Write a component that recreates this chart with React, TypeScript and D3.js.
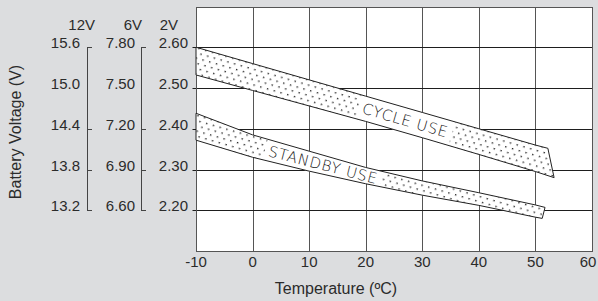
import { useEffect, useRef } from "react";
import * as d3 from "d3";

// Band edges (2V cell voltage vs temperature °C)
const cycleTopT = [-10, 0, 10, 20, 30, 40, 50, 52.2];
const cycleTopV = [2.6, 2.56, 2.52, 2.48, 2.44, 2.4, 2.36, 2.352];
const cycleBotT = [-10, 0, 10, 20, 30, 40, 50, 53.3];
const cycleBotV = [2.532, 2.494, 2.456, 2.418, 2.378, 2.337, 2.295, 2.28];

const standbyTopT = [-10, 0, 10, 20, 30, 40, 50, 51.7];
const standbyTopV = [2.438, 2.385, 2.345, 2.305, 2.272, 2.243, 2.213, 2.207];
const standbyBotT = [-10, 0, 10, 20, 30, 40, 50, 51.2];
const standbyBotV = [2.372, 2.33, 2.296, 2.265, 2.237, 2.212, 2.183, 2.18];

// axis ticks
const tempTicks = [-10, 0, 10, 20, 30, 40, 50, 60];
const v2Ticks = [2.6, 2.5, 2.4, 2.3, 2.2];
const v6Labels = ["7.80", "7.50", "7.20", "6.90", "6.60"];
const v12Labels = ["15.6", "15.0", "14.4", "13.8", "13.2"];
const v2Labels = ["2.60", "2.50", "2.40", "2.30", "2.20"];
const tickedRows = [true, false, true, true, true];

const App = () => {
  const ref = useRef<SVGSVGElement | null>(null);

  useEffect(() => {
    if (!ref.current) return;
    const svg = d3.select(ref.current);
    svg.selectAll("*").remove();

    const width = 598;
    const height = 301;
    const font = "'Liberation Sans', Arial, sans-serif";
    const ink = "#2b2b2b";

    const x = d3.scaleLinear().domain([-10, 60]).range([196, 592]);
    const y = d3.scaleLinear().domain([2.1, 2.7]).range([251, 6.5]);
    const px = (v: number) => Math.round(v) + 0.5;

    svg.attr("width", width).attr("height", height).style("display", "block");
    svg.append("rect").attr("width", width).attr("height", height).attr("fill", "#dcdddf");

    const defs = svg.append("defs");
    const pat = defs.append("pattern")
      .attr("id", "dots")
      .attr("patternUnits", "userSpaceOnUse")
      .attr("width", 7)
      .attr("height", 10)
      .attr("patternTransform", "rotate(16)");
    pat.append("rect").attr("width", 7).attr("height", 10).attr("fill", "#fff");
    pat.append("rect").attr("x", 1).attr("y", 1).attr("width", 1.4).attr("height", 1.4).attr("fill", "#222");
    pat.append("rect").attr("x", 4.5).attr("y", 6).attr("width", 1.4).attr("height", 1.4).attr("fill", "#222");

    // plot area
    const [x0, x1] = x.range();
    const [y0, y1] = y.range();
    svg.append("rect")
      .attr("x", px(x0)).attr("y", px(y1))
      .attr("width", px(x1) - px(x0)).attr("height", px(y0) - px(y1))
      .attr("fill", "#fff");

    // vertical gridlines
    svg.append("g").selectAll("line")
      .data(tempTicks.slice(1, -1))
      .enter().append("line")
      .attr("x1", d => px(x(d))).attr("x2", d => px(x(d)))
      .attr("y1", px(y1)).attr("y2", px(y0))
      .attr("stroke", "#555").attr("stroke-width", 1);

    // horizontal gridlines
    svg.append("g").selectAll("line")
      .data(v2Ticks)
      .enter().append("line")
      .attr("x1", px(x0) - 4).attr("x2", px(x1))
      .attr("y1", d => px(y(d))).attr("y2", d => px(y(d)))
      .attr("stroke", "#1e1e1e").attr("stroke-width", 1);

    // frame
    svg.append("rect")
      .attr("x", px(x0)).attr("y", px(y1))
      .attr("width", px(x1) - px(x0)).attr("height", px(y0) - px(y1))
      .attr("fill", "none").attr("stroke", "#555").attr("stroke-width", 1);

    // bands
    const bandPath = (tt: number[], tv: number[], bt: number[], bv: number[]) => {
      const top = tt.map((t, i) => [x(t), y(tv[i])] as [number, number]);
      const bot = bt.map((t, i) => [x(t), y(bv[i])] as [number, number]).reverse();
      return d3.line()([...top, ...bot]) + "Z";
    };

    const bands = [
      { id: "cyc", label: "CYCLE USE", d: bandPath(cycleTopT, cycleTopV, cycleBotT, cycleBotV), t: 27, tt: cycleTopT, tv: cycleTopV, bt: cycleBotT, bv: cycleBotV },
      { id: "stb", label: "STANDBY USE", d: bandPath(standbyTopT, standbyTopV, standbyBotT, standbyBotV), t: 12.5, tt: standbyTopT, tv: standbyTopV, bt: standbyBotT, bv: standbyBotV },
    ];

    bands.forEach(b => {
      defs.append("clipPath").attr("id", "clip-" + b.id).append("path").attr("d", b.d);
      svg.append("path").attr("d", b.d).attr("fill", "url(#dots)");

      const mid = (t: number) => {
        const a = d3.scaleLinear().domain(b.tt).range(b.tv)(t);
        const c = d3.scaleLinear().domain(b.bt).range(b.bv)(t);
        return y((a + c) / 2);
      };
      const cx = x(b.t);
      const cy = mid(b.t);
      const ang = (Math.atan2(mid(b.t + 5) - mid(b.t - 5), x(b.t + 5) - x(b.t - 5)) * 180) / Math.PI;

      const g = svg.append("g").attr("clip-path", `url(#clip-${b.id})`);
      const lg = g.append("g").attr("transform", `translate(${cx},${cy}) rotate(${ang})`);
      const txt = lg.append("text")
        .attr("text-anchor", "middle")
        .attr("dy", "0.36em")
        .attr("font-family", "'DejaVu Sans', sans-serif")
        .attr("font-weight", 300)
        .attr("font-size", 15)
        .attr("letter-spacing", 0.8)
        .attr("fill", "#222")
        .text(b.label);
      const bb = (txt.node() as SVGTextElement).getBBox();
      lg.insert("rect", "text")
        .attr("x", bb.x - 4).attr("y", -14)
        .attr("width", bb.width + 8).attr("height", 28)
        .attr("fill", "#fff");

      svg.append("path").attr("d", b.d)
        .attr("fill", "none").attr("stroke", "#222").attr("stroke-width", 1);
    });

    // x tick labels
    svg.append("g").selectAll("text")
      .data(tempTicks)
      .enter().append("text")
      .attr("x", d => Math.min(x(d), width - 10)).attr("y", 267)
      .attr("text-anchor", "middle")
      .attr("font-family", font).attr("font-size", 15).attr("fill", ink)
      .text(d => String(d));

    svg.append("text")
      .attr("x", 336).attr("y", 294)
      .attr("text-anchor", "middle")
      .attr("font-family", font).attr("font-size", 16).attr("fill", ink)
      .text("Temperature (ºC)");

    // left voltage scales (12V / 6V / 2V)
    const cols = [
      { head: "12V", headX: 95, labels: v12Labels, labelX: 80, axisX: 87 },
      { head: "6V", headX: 142, labels: v6Labels, labelX: 135, axisX: 141 },
      { head: "2V", headX: 178, labels: v2Labels, labelX: 188, axisX: -1 },
    ];
    cols.forEach(c => {
      svg.append("text")
        .attr("x", c.headX).attr("y", 30)
        .attr("text-anchor", "end")
        .attr("font-family", font).attr("font-size", 15).attr("fill", ink)
        .text(c.head);
      svg.append("g").selectAll("text")
        .data(v2Ticks)
        .enter().append("text")
        .attr("x", c.labelX).attr("y", d => y(d) + 1)
        .attr("text-anchor", "end")
        .attr("font-family", font).attr("font-size", 15).attr("fill", ink)
        .text((_, i) => c.labels[i]);
      if (c.axisX < 0) return;
      svg.append("line")
        .attr("x1", c.axisX + 0.5).attr("x2", c.axisX + 0.5)
        .attr("y1", px(y(v2Ticks[0]))).attr("y2", px(y(v2Ticks[v2Ticks.length - 1])) + 0.5)
        .attr("stroke", "#444").attr("stroke-width", 1);
      svg.append("g").selectAll("line")
        .data(v2Ticks.filter((_, i) => tickedRows[i]))
        .enter().append("line")
        .attr("x1", c.axisX).attr("x2", c.axisX + 5)
        .attr("y1", d => px(y(d))).attr("y2", d => px(y(d)))
        .attr("stroke", "#444").attr("stroke-width", 1);
    });

    svg.append("text")
      .attr("transform", `translate(21,132) rotate(-90)`)
      .attr("text-anchor", "middle")
      .attr("font-family", font).attr("font-size", 16).attr("fill", ink)
      .text("Battery Voltage (V)");
  }, []);

  return (
    <div style={{ position: "absolute", left: 0, top: 0 }}>
      <svg ref={ref}></svg>
    </div>
  );
};

export default App;
